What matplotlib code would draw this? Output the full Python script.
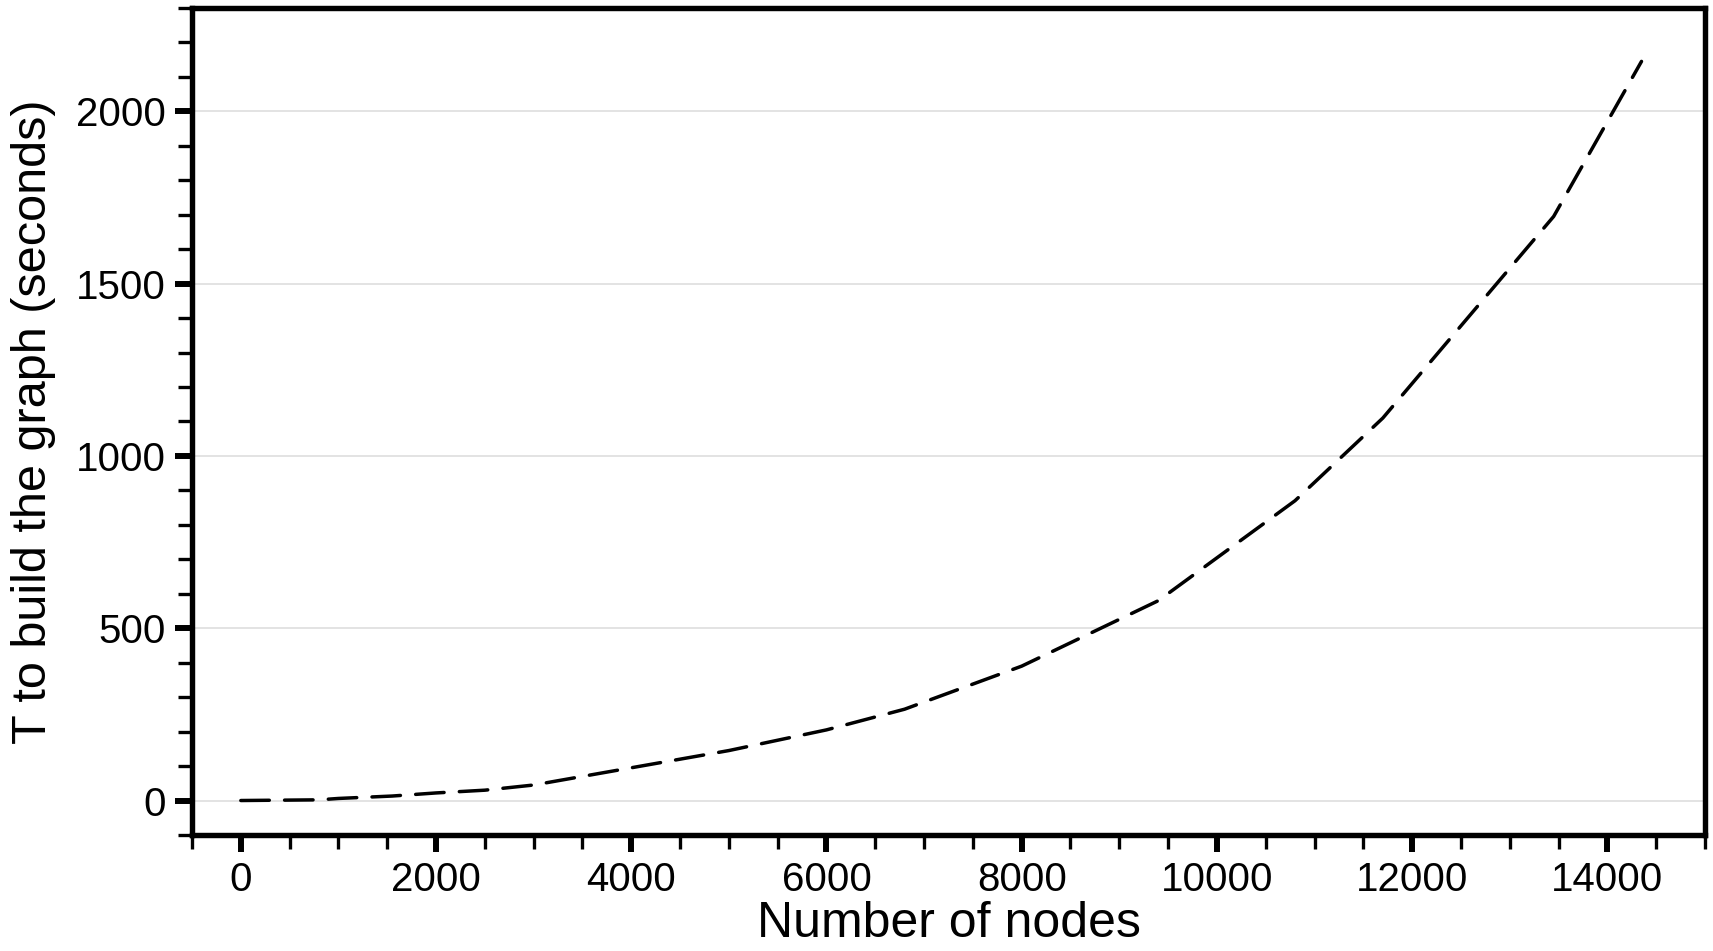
import numpy as np
import matplotlib
matplotlib.use("Agg")
import matplotlib.pyplot as plt
from matplotlib.ticker import MultipleLocator

# values
nodes = [0, 800, 1000, 1550, 2000, 2500, 3000, 4000, 5000, 6000, 6800,
         8000, 9400, 10800, 11700, 13450, 14350]
build_time = [0, 2, 6, 13, 22, 30, 45, 95, 145, 205, 265,
              390, 580, 870, 1110, 1695, 2145]

x_ticks = [0, 2000, 4000, 6000, 8000, 10000, 12000, 14000]
y_ticks = [0, 500, 1000, 1500, 2000]

plt.rcParams['font.family'] = ['Liberation Sans', 'DejaVu Sans']

fig = plt.figure(figsize=(17.13, 9.51), dpi=100)
ax = fig.add_axes([0.1121, 0.122, 0.8832, 0.8696])

ax.plot(nodes, build_time, color='black', linewidth=2.5,
        dashes=(8.2, 4.4), dash_capstyle='round', solid_capstyle='round')

ax.set_xlim(-500, 15000)
ax.set_ylim(-100, 2300)
ax.set_xticks(x_ticks)
ax.set_yticks(y_ticks)
ax.xaxis.set_minor_locator(MultipleLocator(500))
ax.yaxis.set_minor_locator(MultipleLocator(100))

ax.grid(axis='y', which='major', color='#dedede', linewidth=1.2)
ax.set_axisbelow(True)

for side in ['top', 'bottom', 'left', 'right']:
    ax.spines[side].set_linewidth(3.9)

ax.tick_params(which='major', direction='out', length=12, width=4.3,
               labelsize=29, pad=7)
ax.tick_params(which='minor', direction='out', length=10, width=2.4)

ax.set_xlabel("Number of nodes", fontsize=36, labelpad=1)
ax.set_ylabel("T to build the graph (seconds)", fontsize=35, labelpad=14)

plt.savefig('out.png', dpi=100)
